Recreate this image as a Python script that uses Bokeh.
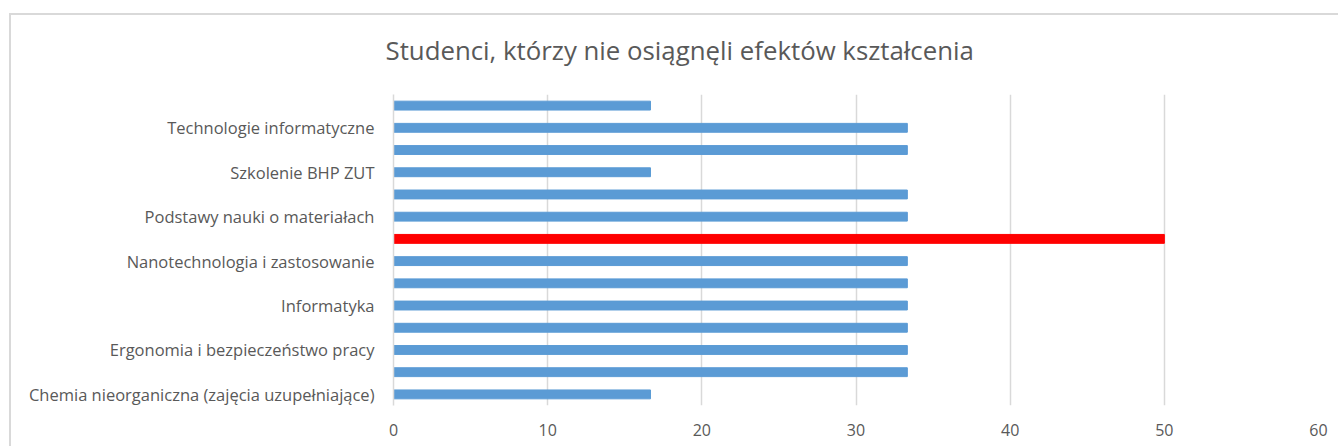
from bokeh.plotting import figure
from bokeh.models import FixedTicker, ColumnDataSource, Range1d
from bokeh.embed import file_html
from bokeh.resources import INLINE

title = "Studenci, którzy nie osiągnęli efektów kształcenia"

# categories bottom -> top (only every other one is labelled in the source)
labels = [
    "Chemia nieorganiczna (zajęcia uzupełniające)",
    "",
    "Ergonomia i bezpieczeństwo pracy",
    "",
    "Informatyka",
    "",
    "Nanotechnologia i zastosowanie",
    "",
    "Podstawy nauki o materiałach",
    "",
    "Szkolenie BHP ZUT",
    "",
    "Technologie informatyczne",
    "",
]
values = [16.67, 33.33, 33.33, 33.33, 33.33, 33.33, 33.33,
          50.0, 33.33, 33.33, 16.67, 33.33, 33.33, 16.67]
x_ticks = [0, 10, 20, 30, 40, 50, 60]

BLUE = "#5B9BD5"
RED = "#FF0000"
vmax = max(values)
colors = [RED if v == vmax else BLUE for v in values]
positions = list(range(1, len(values) + 1))

src = ColumnDataSource(dict(y=positions, right=values, color=colors))

GRAY = "#d9d9d9"
border_css = (f"linear-gradient({GRAY},{GRAY}) 9px 13px / 2px 100% no-repeat, "
              f"linear-gradient({GRAY},{GRAY}) 9px 13px / 100% 2px no-repeat, white")

p = figure(width=1338, height=446, output_backend="svg", toolbar_location=None,
           x_range=Range1d(0, 60), y_range=Range1d(0.5, len(values) + 0.5),
           min_border_left=393, min_border_right=20, min_border_top=94,
           min_border_bottom=41,
           styles={"background": border_css})
p.outline_line_color = None
p.background_fill_color = "white"
p.border_fill_color = None

p.hbar(y="y", left=0, right="right", height=0.4, color="color", source=src)

# title
p.title.text = title
p.title.align = "left"
p.title.offset = -8
p.title.text_font = "Open Sans"
p.title.text_font_size = "25.8px"
p.title.text_font_style = "normal"
p.title.text_color = "#595959"
p.title.standoff = 53

# x axis
p.xaxis.ticker = FixedTicker(ticks=x_ticks)
p.xaxis.axis_line_color = None
p.xaxis.major_tick_line_color = None
p.xaxis.minor_tick_line_color = None
p.xaxis.major_label_text_font = "Open Sans"
p.xaxis.major_label_text_font_size = "16px"
p.xaxis.major_label_text_color = "#595959"
p.xaxis.major_label_standoff = 12

# y axis
tick_pos = [pos for pos, lab in zip(positions, labels) if lab]
p.yaxis.ticker = FixedTicker(ticks=tick_pos)
p.yaxis.major_label_overrides = {pos: lab for pos, lab in zip(positions, labels) if lab}
p.yaxis.axis_line_color = GRAY
p.yaxis.axis_line_width = 1.5
p.yaxis.major_tick_line_color = None
p.yaxis.minor_tick_line_color = None
p.yaxis.major_label_text_font = "Open Sans"
p.yaxis.major_label_text_font_size = "16.5px"
p.yaxis.major_label_text_color = "#595959"
p.yaxis.major_label_standoff = 13

p.xgrid.grid_line_color = GRAY
p.xgrid.grid_line_width = 1.5
p.ygrid.grid_line_color = None

open("out.html", "w").write(file_html(p, INLINE))
